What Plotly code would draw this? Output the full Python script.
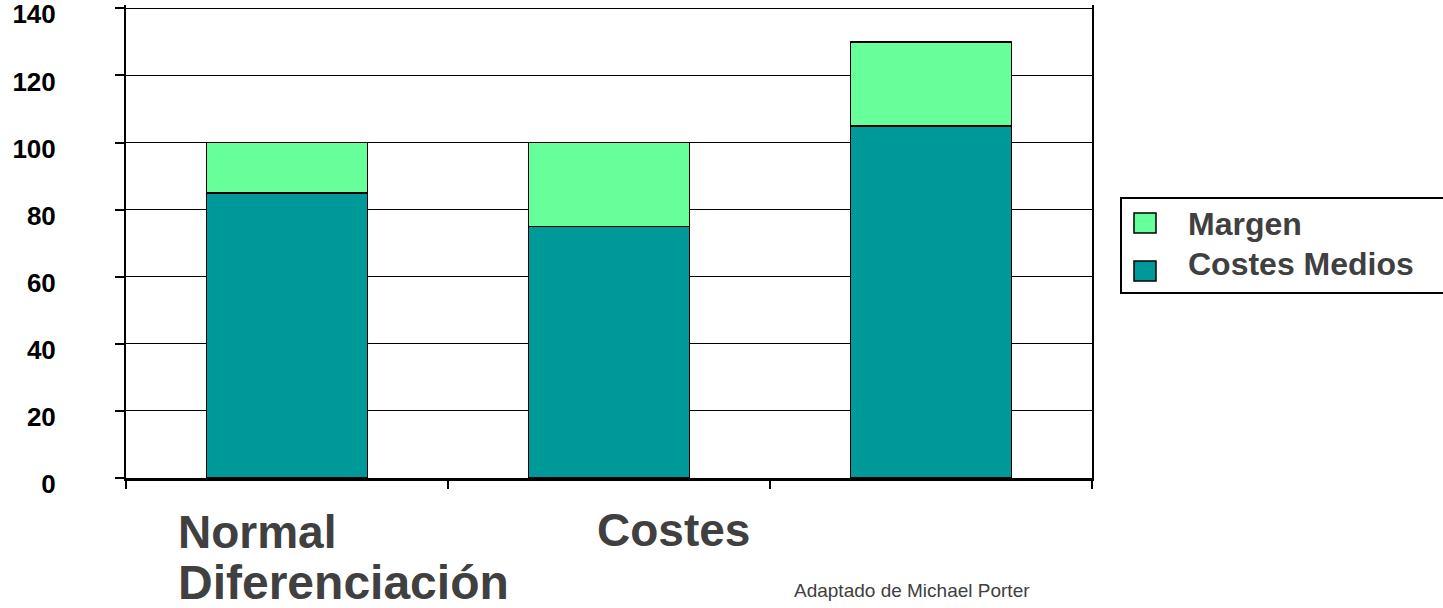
import plotly.graph_objects as go

categories = ["Normal", "Costes", "Diferenciación"]
costes_medios = [85, 75, 105]
margen = [15, 25, 25]
y_ticks = [0, 20, 40, 60, 80, 100, 120, 140]
source_text = "Adaptado de Michael Porter"

TEAL = "#009999"
GREEN = "#66FF99"
TXT = "#404040"
FONT = "Arial, Liberation Sans, sans-serif"

W, H = 1443, 608
L, R, T, B = 126, 351, 5, 130
PW, PH = W - L - R, H - T - B


def px(x):
    return (x - L) / PW


def py(y):
    return (H - B - y) / PH


fig = go.Figure()
fig.add_trace(go.Bar(x=categories, y=costes_medios, name="Costes Medios",
                     marker=dict(color=TEAL, line=dict(color="black", width=1.5)),
                     showlegend=False))
fig.add_trace(go.Bar(x=categories, y=margen, name="Margen",
                     marker=dict(color=GREEN, line=dict(color="black", width=1.5)),
                     showlegend=False))

fig.update_layout(
    barmode="stack",
    bargap=0.5,
    width=W, height=H,
    margin=dict(l=L, r=R, t=T, b=B, pad=0, autoexpand=False),
    paper_bgcolor="white",
    plot_bgcolor="white",
    font=dict(family=FONT, color="black"),
)
fig.update_xaxes(
    showticklabels=False, automargin=False,
    ticks="outside", tickson="boundaries", ticklen=8, tickcolor="black", tickwidth=1.5,
    showline=True, linecolor="black", linewidth=2.5,
    showgrid=False, zeroline=False,
)
fig.update_yaxes(
    range=[0, 141], tickvals=y_ticks, automargin=False,
    ticks="outside", ticklen=9, tickcolor="black", tickwidth=1.5,
    tickfont=dict(family=FONT, size=26, color="black", weight="bold"),
    ticklabelstandoff=54,
    ticklabeloverflow="allow",
    ticklabelshift=6,
    showline=True, linecolor="black", linewidth=2, mirror=True,
    showgrid=True, gridcolor="black", gridwidth=1,
    zeroline=False,
)

# category labels (placed as in the reference layout)
label_pos = [(176, 532, 46), (595, 530, 46), (176, 582, 48)]
for cat, (x, y, s) in zip(categories, label_pos):
    fig.add_annotation(text=f"<b>{cat}</b>", x=px(x), y=py(y), xref="paper", yref="paper",
                       xanchor="left", yanchor="middle", showarrow=False,
                       font=dict(family=FONT, size=s, color=TXT))

fig.add_annotation(text=source_text, x=px(792), y=py(590), xref="paper", yref="paper",
                   xanchor="left", yanchor="middle", showarrow=False,
                   font=dict(family=FONT, size=19, color=TXT))

# legend
fig.add_shape(type="rect", xref="paper", yref="paper",
              x0=px(1121), x1=px(1460), y0=py(198), y1=py(293),
              line=dict(color="black", width=2), fillcolor="rgba(0,0,0,0)")
legend_items = [("Margen", GREEN, 224, 223), ("Costes Medios", TEAL, 264, 271)]
for name, col, yc, ys in legend_items:
    fig.add_shape(type="rect", xref="paper", yref="paper",
                  x0=px(1134), x1=px(1156), y0=py(ys - 10), y1=py(ys + 10),
                  line=dict(color="black", width=1.5), fillcolor=col)
    fig.add_annotation(text=f"<b>{name}</b>", x=px(1186), y=py(yc), xref="paper", yref="paper",
                       xanchor="left", yanchor="middle", showarrow=False,
                       font=dict(family=FONT, size=32, color=TXT))

fig.write_html("out.html")
